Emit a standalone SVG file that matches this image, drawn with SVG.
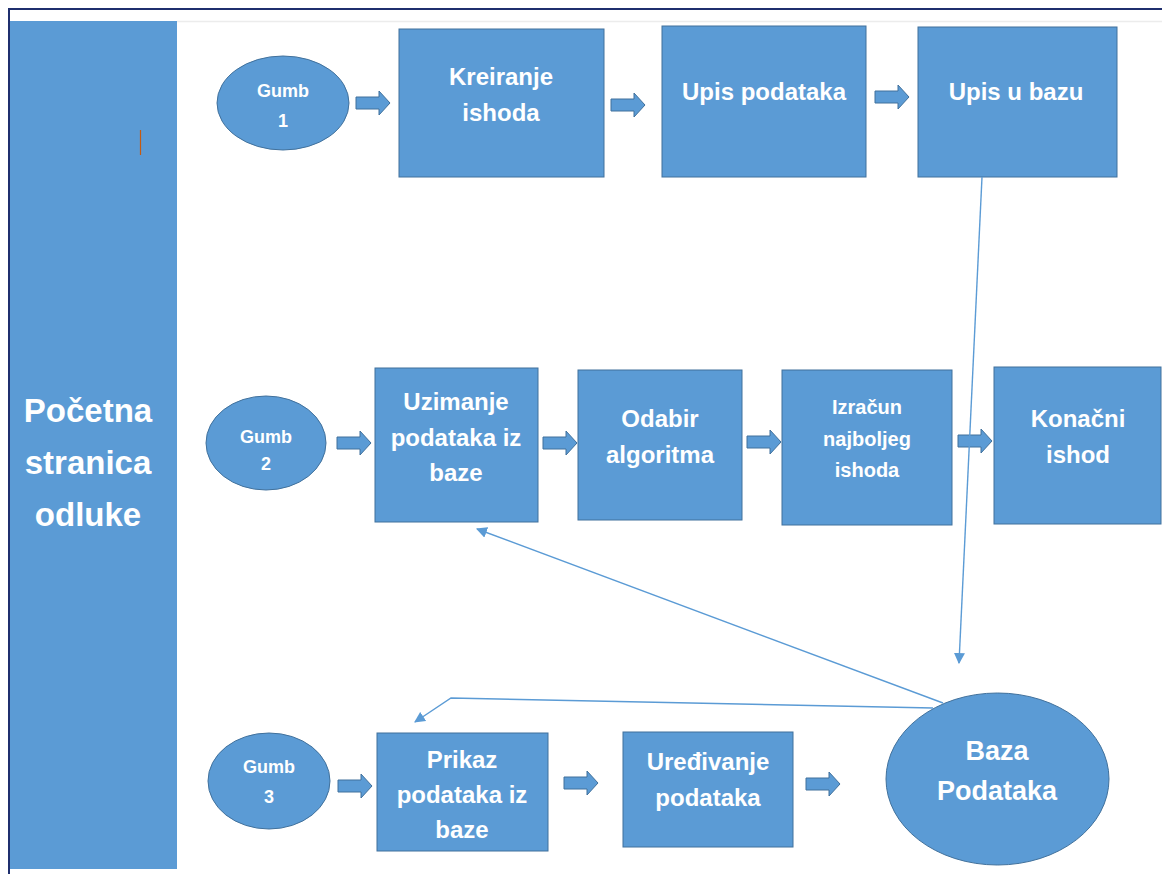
<svg xmlns="http://www.w3.org/2000/svg" width="1162" height="875" viewBox="0 0 1162 875">
<defs>
<style>
.box{fill:#5b9bd5;stroke:#41719c;stroke-width:1}
.t{fill:#ffffff;font-family:"Liberation Sans",Arial,sans-serif;font-weight:bold;text-anchor:middle}
.f24{font-size:24px}
.f20{font-size:20px}
.f18{font-size:18px}
.f27{font-size:27px}
.f33{font-size:33px}
.blk{fill:#5b9bd5;stroke:#41719c;stroke-width:1}
.con{fill:none;stroke:#5b9bd5;stroke-width:1.4}
</style>
<path id="barrow" d="M0,-6 H23 V-12 L34,0 L23,12 V6 H0 Z"/>
<marker id="ah" viewBox="0 0 10 10" refX="9" refY="5" markerWidth="8" markerHeight="8" markerUnits="userSpaceOnUse" orient="auto">
<path d="M0,0 L10,5 L0,10 Z" fill="#5b9bd5"/>
</marker>
<marker id="ah2" viewBox="0 0 10 10" refX="9" refY="5" markerWidth="11" markerHeight="11" markerUnits="userSpaceOnUse" orient="auto">
<path d="M0,0 L10,5 L0,10 Z" fill="#5b9bd5"/>
</marker>
</defs>
<rect x="0" y="0" width="1162" height="875" fill="#ffffff"/>
<!-- frame -->
<line x1="8" y1="9" x2="1162" y2="9" stroke="#1f2f6e" stroke-width="2"/>
<line x1="9" y1="8" x2="9" y2="874" stroke="#1f2f6e" stroke-width="2"/>
<line x1="177" y1="21.5" x2="1162" y2="21.5" stroke="#ececec" stroke-width="1.5"/>

<g id="panel">
<rect x="10" y="21" width="167" height="848" fill="#5b9bd5"/>
<line x1="140.5" y1="130" x2="140.5" y2="155" stroke="#c55a11" stroke-width="1.2"/>
<text class="t f33" x="88" y="422">Početna</text>
<text class="t f33" x="88" y="474">stranica</text>
<text class="t f33" x="88" y="526">odluke</text>
</g>

<g id="gumb1">
<ellipse class="box" cx="283" cy="103" rx="66" ry="47"/>
<text class="t f18" x="283" y="97">Gumb</text>
<text class="t f18" x="283" y="127">1</text>
</g>
<g id="kreiranje">
<rect class="box" x="399" y="29" width="205" height="148"/>
<text class="t f24" x="501" y="85">Kreiranje</text>
<text class="t f24" x="501" y="121">ishoda</text>
</g>
<g id="upis-podataka">
<rect class="box" x="662" y="26" width="204" height="151"/>
<text class="t f24" x="764" y="100">Upis podataka</text>
</g>
<g id="upis-u-bazu">
<rect class="box" x="918" y="27" width="199" height="150"/>
<text class="t f24" x="1016" y="100">Upis u bazu</text>
</g>

<g id="gumb2">
<ellipse class="box" cx="266" cy="443" rx="60" ry="47"/>
<text class="t f18" x="266" y="443">Gumb</text>
<text class="t f18" x="266" y="470">2</text>
</g>
<g id="uzimanje">
<rect class="box" x="375" y="368" width="163" height="154"/>
<text class="t f24" x="456" y="410">Uzimanje</text>
<text class="t f24" x="456" y="446">podataka iz</text>
<text class="t f24" x="456" y="481">baze</text>
</g>
<g id="odabir">
<rect class="box" x="578" y="370" width="164" height="150"/>
<text class="t f24" x="660" y="427">Odabir</text>
<text class="t f24" x="660" y="463">algoritma</text>
</g>
<g id="izracun">
<rect class="box" x="782" y="370" width="170" height="155"/>
<text class="t f20" x="867" y="414">Izračun</text>
<text class="t f20" x="867" y="446">najboljeg</text>
<text class="t f20" x="867" y="477">ishoda</text>
</g>
<g id="konacni">
<rect class="box" x="994" y="367" width="167" height="157"/>
<text class="t f24" x="1078" y="427">Konačni</text>
<text class="t f24" x="1078" y="463">ishod</text>
</g>

<g id="gumb3">
<ellipse class="box" cx="269" cy="781" rx="61" ry="48"/>
<text class="t f18" x="269" y="773">Gumb</text>
<text class="t f18" x="269" y="803">3</text>
</g>
<g id="prikaz">
<rect class="box" x="377" y="733" width="171" height="118"/>
<text class="t f24" x="462" y="768">Prikaz</text>
<text class="t f24" x="462" y="803">podataka iz</text>
<text class="t f24" x="462" y="838">baze</text>
</g>
<g id="uredivanje">
<rect class="box" x="623" y="732" width="170" height="115"/>
<text class="t f24" x="708" y="770">Uređivanje</text>
<text class="t f24" x="708" y="806">podataka</text>
</g>
<g id="baza">
<ellipse class="box" cx="997.5" cy="779" rx="111.5" ry="86"/>
<text class="t f27" x="997" y="760">Baza</text>
<text class="t f27" x="997" y="800">Podataka</text>
</g>

<g id="connectors">
<use href="#barrow" class="blk" transform="translate(356,103)"/>
<use href="#barrow" class="blk" transform="translate(611,105)"/>
<use href="#barrow" class="blk" transform="translate(875,97)"/>
<use href="#barrow" class="blk" transform="translate(337,443)"/>
<use href="#barrow" class="blk" transform="translate(543,443)"/>
<use href="#barrow" class="blk" transform="translate(747,442)"/>
<use href="#barrow" class="blk" transform="translate(958,441)"/>
<use href="#barrow" class="blk" transform="translate(338,786)"/>
<use href="#barrow" class="blk" transform="translate(564,783)"/>
<use href="#barrow" class="blk" transform="translate(806,784)"/>
<line class="con" x1="982" y1="177" x2="959" y2="663" marker-end="url(#ah2)"/>
<line class="con" x1="943" y1="703" x2="477" y2="529" marker-end="url(#ah2)"/>
<polyline class="con" points="933,708 451,698 415,722" marker-end="url(#ah2)"/>
</g>
</svg>
